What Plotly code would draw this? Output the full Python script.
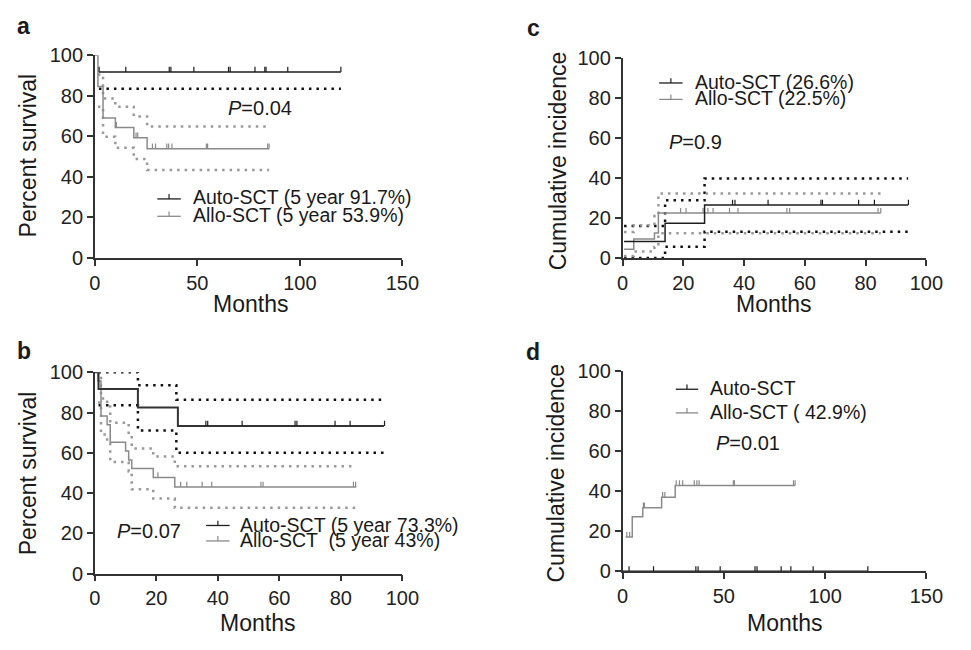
import plotly.graph_objects as go

W, H = 971, 650
FONT = "Liberation Sans, Arial, sans-serif"
BLACK = "#1e1e1e"
GRAY = "#8a8a8a"
DOTB = "#111111"
DOTG = "#999999"

# ---------------- data ----------------
# Panel a: overall survival
a_auto_t = [2, 120]
a_auto_s = [91.7, 91.7]
a_auto_lo_t = [2, 120]
a_auto_lo = [83.5, 83.5]
a_auto_cens = [2.1, 15.1, 36.3, 37.1, 48.3, 65.2, 66.0, 78.1, 82.9, 83.5, 94.1, 120]
a_allo_t = [0, 1.5, 4, 10, 19, 25.5, 85]
a_allo_s = [100, 84.6, 69.0, 64.4, 59.3, 53.9, 53.9]
a_allo_cens = [10.5, 20.1, 20.9, 28.1, 29.6, 35.1, 36.0, 37.6, 54.4, 55.0, 84.3, 85.0]
a_allo_ci_t = [1.5, 4, 10, 19, 25.5, 85]
a_allo_hi = [90.5, 78.6, 74.6, 69.8, 64.8, 64.8]
a_allo_lo = [74.6, 59.8, 54.3, 48.8, 43.4, 43.4]

# Panel b: progression-free survival
b_auto_t = [0, 1.2, 14, 27, 94]
b_auto_s = [100, 91.7, 82.5, 73.3, 73.3]
b_auto_cens = [36.1, 36.7, 47.9, 65.1, 65.7, 78.1, 83.0, 94.2]
b_auto_ci_t = [1.2, 14, 26.5, 94]
b_auto_hi = [100, 93.6, 86.4, 86.4]
b_auto_lo = [83.6, 71.1, 60.0, 60.0]
b_allo_t = [0, 1, 2, 4, 5, 10, 11, 12, 19, 26, 85]
b_allo_s = [100, 95.7, 78.3, 73.9, 65.2, 60.9, 56.5, 52.2, 47.8, 43.0, 43.0]
b_allo_cens = [20.5, 27.9, 29.9, 34.9, 38.0, 54.0, 54.7, 84.1, 84.8]
b_allo_ci_t = [1, 2, 4, 5, 11, 12, 19, 26, 85]
b_allo_hi = [100, 87.0, 83.0, 75.0, 69.1, 62.2, 58.2, 53.3, 53.3]
b_allo_lo = [85.0, 69.1, 64.8, 55.5, 50.7, 41.9, 37.3, 32.7, 32.7]

# Panel c: cumulative incidence of relapse
c_auto_t = [0.5, 14, 27, 94]
c_auto_s = [8.3, 17.4, 26.6, 26.6]
c_auto_cens = [36.2, 37.0, 47.9, 65.3, 65.8, 77.7, 82.9, 94.1]
c_auto_ci_t = [0.5, 14, 27, 94]
c_auto_hi = [16.1, 28.9, 39.8, 39.8]
c_auto_lo = [0.0, 5.6, 13.2, 13.2]
c_allo_t = [0.5, 3.7, 10.5, 11.8, 85]
c_allo_s = [4.4, 9.5, 12.5, 22.5, 22.5]
c_allo_cens = [19.1, 20.9, 26.5, 28.1, 29.8, 35.2, 38.0, 54.1, 55.0, 84.1, 85.0]
c_allo_ci_t = [0.5, 3.7, 10.5, 11.8, 85]
c_allo_hi = [13.0, 16.4, 21.0, 32.3, 32.3]
c_allo_lo = [1.0, 3.3, 5.5, 12.4, 12.4]

# Panel d: non-relapse mortality
d_auto_t = [0, 121]
d_auto_s = [0, 0]
d_auto_cens = [3.2, 15.3, 36.2, 37.3, 48.2, 65.4, 66.4, 78.3, 83.1, 94.1, 121.1]
d_allo_t = [1.5, 4.8, 10.0, 19.3, 26, 85.2]
d_allo_s = [17.2, 27.3, 31.8, 37.0, 42.9, 42.9]
d_allo_cens = [2.1, 3.5, 10.3, 10.8, 19.8, 20.9, 26.5, 28.1, 29.7, 35.4, 36.7, 37.8, 54.7, 55.2, 84.4, 85.2]

x_ticks_150 = [0, 50, 100, 150]
x_ticks_100 = [0, 20, 40, 60, 80, 100]
y_ticks = [0, 20, 40, 60, 80, 100]

# ---------------- helpers ----------------
def step_at(ts, ss, c):
    v = ss[0]
    for t, s in zip(ts, ss):
        if t <= c:
            v = s
    return v


def cens_xy(ts, ss, cens, dy=2.6):
    xs, ys = [], []
    for c in cens:
        v = step_at(ts, ss, c)
        xs += [c, c, None]
        ys += [v, v + dy, None]
    return xs, ys


fig = go.Figure()


def add_step(ax, ts, ss, color, width=1.5, dash="solid"):
    fig.add_trace(go.Scatter(x=ts, y=ss, mode="lines", line_shape="hv",
                             line=dict(color=color, width=width, dash=dash),
                             xaxis="x" + ax, yaxis="y" + ax, showlegend=False,
                             hoverinfo="skip"))


def add_cens(ax, ts, ss, cens, color):
    xs, ys = cens_xy(ts, ss, cens)
    fig.add_trace(go.Scatter(x=xs, y=ys, mode="lines",
                             line=dict(color=color, width=1.2),
                             xaxis="x" + ax, yaxis="y" + ax, showlegend=False,
                             hoverinfo="skip"))

DOTS = "2.5px,5px"
DW = 2.5

# a
add_step("", a_auto_lo_t, a_auto_lo, DOTB, DW, DOTS)
add_step("", a_allo_ci_t, a_allo_hi, DOTG, DW, DOTS)
add_step("", a_allo_ci_t, a_allo_lo, DOTG, DW, DOTS)
add_step("", a_allo_t, a_allo_s, GRAY)
add_cens("", a_allo_t, a_allo_s, a_allo_cens, GRAY)
add_step("", a_auto_t, a_auto_s, BLACK)
add_cens("", a_auto_t, a_auto_s, a_auto_cens, BLACK)

# b
add_step("2", b_auto_ci_t, b_auto_hi, DOTB, DW, DOTS)
add_step("2", b_auto_ci_t, b_auto_lo, DOTB, DW, DOTS)
add_step("2", b_allo_ci_t, b_allo_hi, DOTG, DW, DOTS)
add_step("2", b_allo_ci_t, b_allo_lo, DOTG, DW, DOTS)
add_step("2", b_allo_t, b_allo_s, GRAY)
add_cens("2", b_allo_t, b_allo_s, b_allo_cens, GRAY)
add_step("2", b_auto_t, b_auto_s, "#333333", 2)
add_cens("2", b_auto_t, b_auto_s, b_auto_cens, BLACK)

# c
add_step("3", c_auto_ci_t, c_auto_hi, DOTB, DW, DOTS)
add_step("3", c_auto_ci_t, c_auto_lo, DOTB, DW, DOTS)
add_step("3", c_allo_ci_t, c_allo_hi, DOTG, DW, DOTS)
add_step("3", c_allo_ci_t, c_allo_lo, DOTG, DW, DOTS)
add_step("3", c_allo_t, c_allo_s, GRAY)
add_cens("3", c_allo_t, c_allo_s, c_allo_cens, GRAY)
add_step("3", c_auto_t, c_auto_s, BLACK)
add_cens("3", c_auto_t, c_auto_s, c_auto_cens, BLACK)

# d
add_step("4", d_allo_t, d_allo_s, GRAY)
add_cens("4", d_allo_t, d_allo_s, d_allo_cens, GRAY)
add_step("4", d_auto_t, d_auto_s, BLACK)
add_cens("4", d_auto_t, d_auto_s, d_auto_cens, BLACK)

# ---------------- axes ----------------
def px_dom_x(x0, x1):
    return [x0 / W, x1 / W]


def px_dom_y(y0, y1):  # y0 = pixel of value 0 (bottom), y1 = pixel of 100
    return [1 - y0 / H, 1 - y1 / H]

axis_common = dict(showline=True, linecolor="#333", linewidth=1.5, ticks="outside",
                   ticklen=6, tickwidth=1.5, tickcolor="#333", showgrid=False,
                   zeroline=False, tickfont=dict(size=20, color="#222", family=FONT))

panels = {
    "": dict(xd=px_dom_x(91, 406), yd=px_dom_y(255.7, 45.7), xr=[0, 150], xt=x_ticks_150),
    "2": dict(xd=px_dom_x(91, 406), yd=px_dom_y(582.3, 374), xr=[0, 100], xt=x_ticks_100),
    "3": dict(xd=px_dom_x(631.5, 942.7), yd=px_dom_y(255.7, 49), xr=[0, 100], xt=x_ticks_100),
    "4": dict(xd=px_dom_x(631.5, 942.7), yd=px_dom_y(580, 372.7), xr=[0, 150], xt=x_ticks_150),
}
layout_axes = {}
for k, p in panels.items():
    layout_axes["xaxis" + k] = dict(axis_common, domain=p["xd"], range=p["xr"],
                                    tickvals=p["xt"], anchor="y" + k)
    layout_axes["yaxis" + k] = dict(axis_common, domain=p["yd"], range=[0, 100],
                                    tickvals=y_ticks, anchor="x" + k)

# ---------------- annotations ----------------
annotations = []
shapes = []


def ann(x, y, text, size=20, xanchor="center", yanchor="middle", angle=0, bold=False):
    if bold:
        text = "<b>" + text + "</b>"
    annotations.append(dict(x=x / W, y=1 - y / H, xref="paper", yref="paper", text=text,
                            showarrow=False, xanchor=xanchor, yanchor=yanchor,
                            textangle=angle, font=dict(size=size, color="#1a1a1a", family=FONT)))

# panel letters
ann(18, 16, "a", 23, bold=True)
ann(18, 352, "b", 23, bold=True)
ann(540, 18, "c", 23, bold=True)
ann(540, 353, "d", 23, bold=True)

# axis titles
ann(22, 149, "Percent survival", 23, angle=-90)
ann(22, 478, "Percent survival", 23, angle=-90)
ann(565, 155, "Cumulative incidence", 23, angle=-90)
ann(563, 478, "Cumulative incidence", 23, angle=-90)
ann(250, 303, "Months", 23)
ann(258, 633, "Months", 23)
ann(786, 303, "Months", 23)
ann(797, 633, "Months", 23)

# P values
ann(225, 100, "<i>P</i>=0.04", 20, xanchor="left")
ann(112, 538, "<i>P</i>=0.07", 20, xanchor="left")
ann(677, 136, "<i>P</i>=0.9", 20, xanchor="left")
ann(725, 447, "<i>P</i>=0.01", 20, xanchor="left")


def legend_row(gx0, gx1, gy, tx, ty, text, color):
    shapes.append(dict(type="line", xref="paper", yref="paper", x0=gx0 / W, x1=gx1 / W,
                       y0=1 - gy / H, y1=1 - gy / H, line=dict(color=color, width=1.3)))
    gm = (gx0 + gx1) / 2
    shapes.append(dict(type="line", xref="paper", yref="paper", x0=gm / W, x1=gm / W,
                       y0=1 - gy / H, y1=1 - (gy - 5) / H, line=dict(color=color, width=1.2)))
    ann(tx, ty, text, 19.5, xanchor="left")

legend_row(155, 179, 194.5, 189, 192.5, "Auto-SCT (5 year 91.7%)", BLACK)
legend_row(155, 179, 212.5, 189, 211, "Allo-SCT (5 year 53.9%)", GRAY)
legend_row(205, 229, 532.5, 238, 532, "Auto-SCT (5 year 73.3%)", BLACK)
legend_row(205, 229, 548.5, 238, 548, "Allo-SCT  (5 year 43%)", GRAY)
legend_row(669, 693, 74.5, 704, 73, "Auto-SCT (26.6%)", BLACK)
legend_row(669, 693, 91.5, 704, 90, "Allo-SCT (22.5%)", GRAY)
legend_row(686, 709, 391.5, 719, 390, "Auto-SCT", BLACK)
legend_row(686, 709, 416, 719, 415, "Allo-SCT ( 42.9%)", GRAY)

fig.update_layout(width=W, height=H, margin=dict(l=0, r=0, t=0, b=0),
                  paper_bgcolor="white", plot_bgcolor="white", showlegend=False,
                  annotations=annotations, shapes=shapes,
                  font=dict(family=FONT, color="#1a1a1a"), **layout_axes)

fig.write_html("out.html", config={"displayModeBar": False},
               post_script="document.body.style.margin='0';document.body.style.overflow='hidden';")
